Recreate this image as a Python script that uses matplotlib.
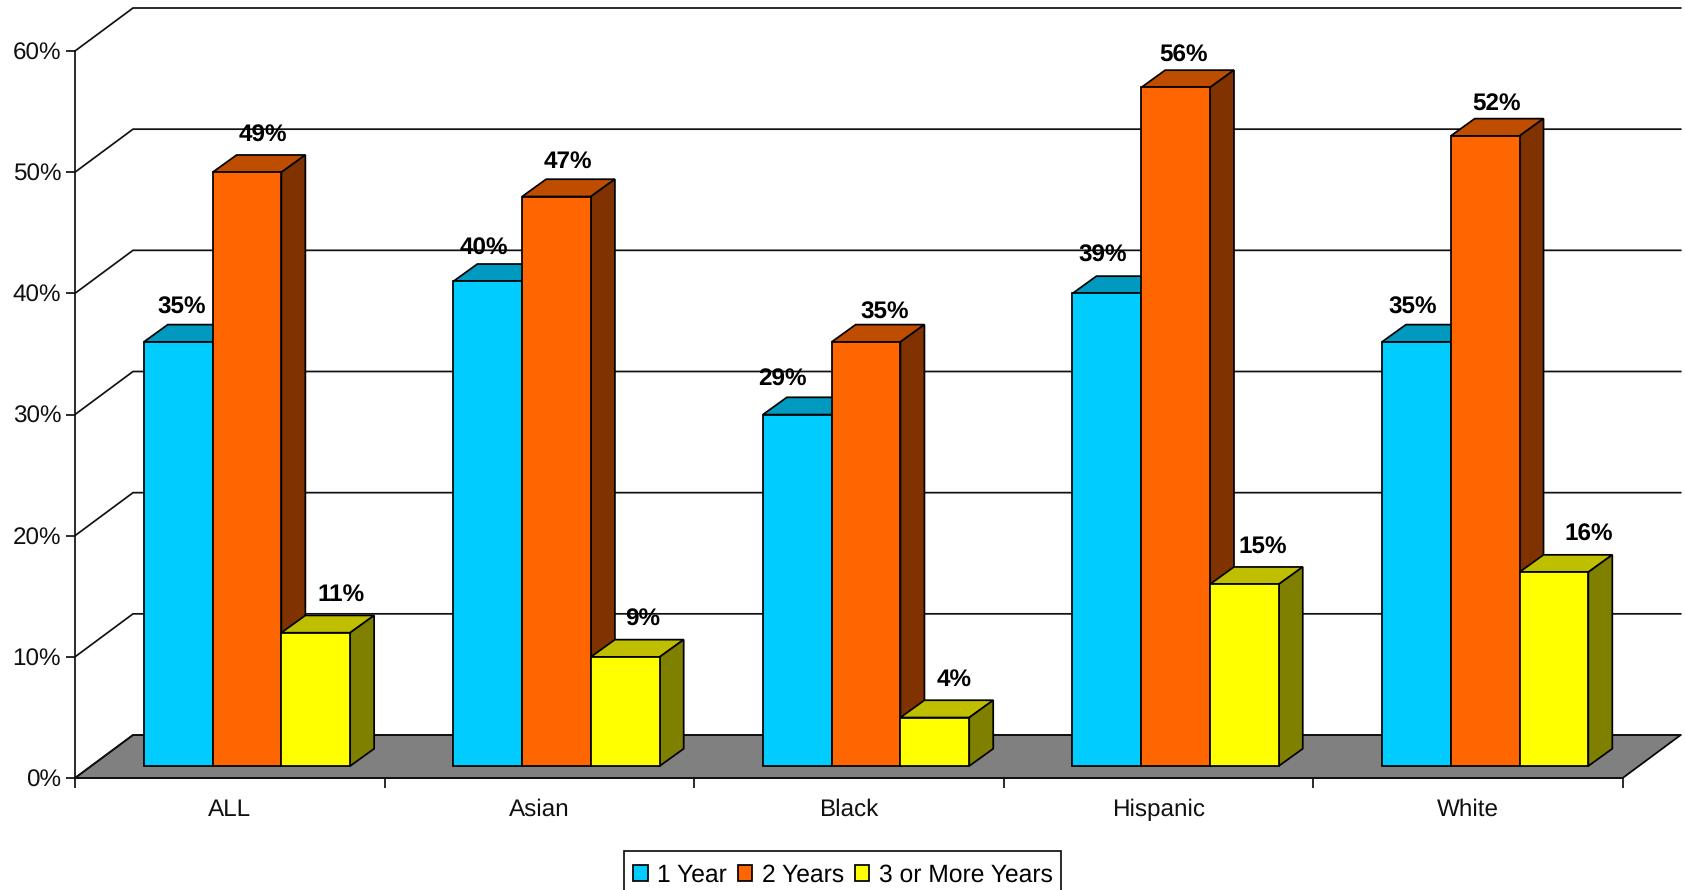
import matplotlib
matplotlib.use('Agg')
import matplotlib.pyplot as plt
from matplotlib.patches import Polygon, Patch

plt.rcParams['font.family'] = ['Liberation Sans', 'DejaVu Sans']
plt.rcParams['text.hinting'] = 'no_hinting'

categories = ['ALL', 'Asian', 'Black', 'Hispanic', 'White']
series_names = ['1 Year', '2 Years', '3 or More Years']
one_year = [35, 40, 29, 39, 35]
two_years = [49, 47, 35, 56, 52]
three_plus = [11, 9, 4, 15, 16]
y_ticks = [0, 10, 20, 30, 40, 50, 60]

# hand placed data labels in the original, shift in pixels from the bar centre / top
label_dx_one = [4, -4, -15, -4, -4]
label_dx_two = [16, 11, 19, 8, 11]
label_dx_three = [25, 17, 19, 18, 35]
label_dy_one = [34, 33, 35, 38, 34]
label_dy_two = [37, 35, 29, 32, 31]
label_dy_three = [38, 37, 38, 38, 38]

front_cols = ['#00CCFF', '#FF6600', '#FFFF00']
top_cols = ['#0099BF', '#BF4D00', '#BFBF00']
side_cols = ['#006680', '#803300', '#808000']

W, H = 1685, 890
AX_L, AX_R, AX_TOP, AX_BOT = 75, 1622.7, 51, 778
px_x = (AX_R - AX_L) / 5
px_y = (AX_BOT - AX_TOP) / 60

fig = plt.figure(figsize=(W / 100, H / 100), dpi=100)
ax = fig.add_axes([AX_L / W, 1 - AX_BOT / H, (AX_R - AX_L) / W, (AX_BOT - AX_TOP) / H])
ax.set_xlim(0, 5)
ax.set_ylim(0, 60)

# 3d offsets of the back wall and of each bar, in data units
wall_dx, wall_dy = 58 / px_x, 43 / px_y
depth_dx, depth_dy = 24 / px_x, 17.3 / px_y
bar_w = 1 / 4.5
base = 12 / px_y

lw = 1.25

# floor
ax.add_patch(Polygon([(0, 0), (5, 0), (5 + wall_dx, wall_dy), (wall_dx, wall_dy)],
                     facecolor='#808080', edgecolor='black', lw=lw, clip_on=False, zorder=1))

# gridlines on the wall
for t in y_ticks:
    ax.plot([0, wall_dx, 5 + wall_dx], [t, t + wall_dy, t + wall_dy], color='#111111', lw=lw,
            clip_on=False, zorder=1.5, solid_joinstyle='miter')

all_vals = [one_year, two_years, three_plus]
all_dx = [label_dx_one, label_dx_two, label_dx_three]
all_dy = [label_dy_one, label_dy_two, label_dy_three]

z = 2
for i in range(len(categories)):
    for s in range(3):
        v = all_vals[s][i]
        x0 = i + bar_w * (1 + s)
        x1 = x0 + bar_w
        # bars sit forward of the axis plane so the value is measured from their own base
        top = base + v
        ax.add_patch(Polygon([(x0, top), (x1, top), (x1 + depth_dx, top + depth_dy), (x0 + depth_dx, top + depth_dy)],
                             facecolor=top_cols[s], edgecolor='black', lw=lw, clip_on=False, zorder=z))
        ax.add_patch(Polygon([(x1, base), (x1 + depth_dx, base + depth_dy), (x1 + depth_dx, top + depth_dy), (x1, top)],
                             facecolor=side_cols[s], edgecolor='black', lw=lw, clip_on=False, zorder=z))
        ax.add_patch(Polygon([(x0, base), (x1, base), (x1, top), (x0, top)],
                             facecolor=front_cols[s], edgecolor='black', lw=lw, clip_on=False, zorder=z))
        z += 0.01
        ax.annotate(f'{v}%', xy=((x0 + x1) / 2, top), xytext=(all_dx[s][i], all_dy[s][i]), textcoords='offset pixels',
                    ha='center', va='center', fontsize=17.5, fontweight='bold', color='black',
                    annotation_clip=False, zorder=20)

for name in ['top', 'right']:
    ax.spines[name].set_visible(False)
for name in ['left', 'bottom']:
    ax.spines[name].set_linewidth(lw)
    ax.spines[name].set_color('#111111')
    ax.spines[name].set_zorder(1.8)

ax.set_yticks(y_ticks)
ax.set_yticklabels([f'{t}%' for t in y_ticks], fontsize=17.5, color='#111111')
ax.tick_params(axis='y', length=6.5, width=lw, pad=3.5, color='#111111')
ax.set_xticks(range(6))
ax.set_xticklabels([])
ax.set_xticks([i + 0.5 for i in range(5)], minor=True)
ax.set_xticklabels(categories, minor=True, fontsize=17.5, color='#111111')
ax.tick_params(axis='x', which='major', length=7, width=lw, color='#111111')
ax.tick_params(axis='x', which='minor', length=0, pad=15)

handles = [Patch(facecolor=c, edgecolor='black', lw=lw) for c in front_cols]
leg = fig.legend(handles, series_names, ncols=3, loc='upper left',
                 bbox_to_anchor=(624 / W, 1 - 851 / H), bbox_transform=fig.transFigure,
                 fontsize=17.7, frameon=True, fancybox=False, edgecolor='#111111', framealpha=1,
                 borderaxespad=0, borderpad=0.36, handlelength=0.6, handleheight=0.6,
                 handletextpad=0.38, columnspacing=0.44, labelspacing=0,
                 title=' ', title_fontsize=3)
leg.get_frame().set_linewidth(lw)

fig.savefig('out.png', dpi=100)
